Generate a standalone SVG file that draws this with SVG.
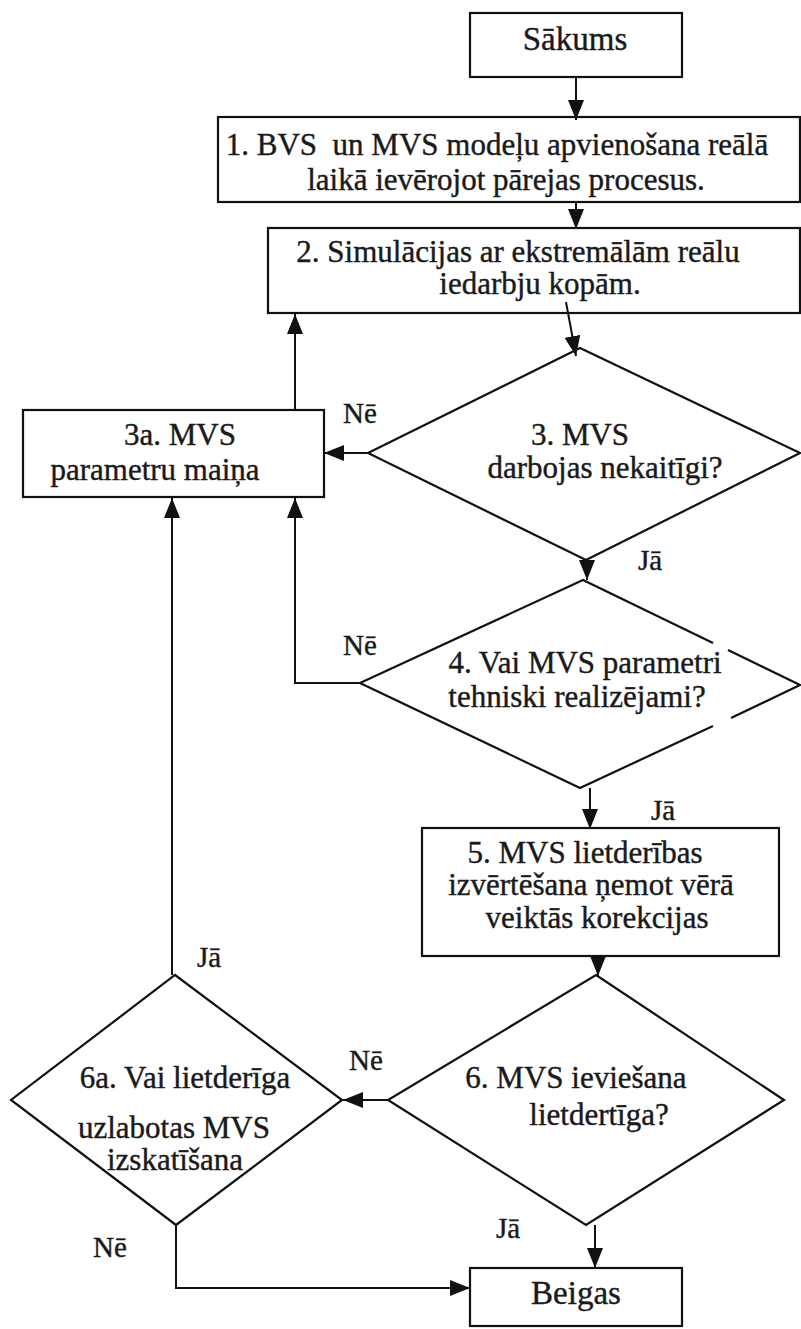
<svg xmlns="http://www.w3.org/2000/svg" width="801" height="1329" viewBox="0 0 801 1329">
  <defs>
    <style>
      .shape { fill: none; stroke: #111; stroke-width: 2.2; stroke-linejoin: miter; }
      .link { fill: none; stroke: #111; stroke-width: 2; }
      text { font-family: "Liberation Serif", "DejaVu Serif", serif; font-size: 31px; fill: #1a1a1a; stroke: #1a1a1a; stroke-width: 0.4; text-anchor: middle; }
      .lbl { font-size: 29px; }
      .big { font-size: 33px; }
    </style>
    <marker id="arrow" markerUnits="userSpaceOnUse" markerWidth="20" markerHeight="16" refX="20" refY="8" orient="auto">
      <path d="M0,0 L20,8 L0,16 z" fill="#111"/>
    </marker>
  </defs>
  <rect width="801" height="1329" fill="#fff"/>

  <!-- connectors and their Jā / Nē labels -->
  <g id="connectors">
    <path class="link" d="M576,77 L576,120" marker-end="url(#arrow)"/>
    <path class="link" d="M576,202 L576,229" marker-end="url(#arrow)"/>
    <path class="link" d="M566,302 L576,356" marker-end="url(#arrow)"/>
    <path class="link" d="M295,410 L295,314" marker-end="url(#arrow)"/>
    <path class="link" d="M368,453 L324,453" marker-end="url(#arrow)"/>
    <path class="link" d="M587,560 L587,580" marker-end="url(#arrow)"/>
    <path class="link" d="M360,683 L295,683 L295,498" marker-end="url(#arrow)"/>
    <path class="link" d="M590,788 L590,829" marker-end="url(#arrow)"/>
    <path class="link" d="M598,956 L598,976" marker-end="url(#arrow)"/>
    <path class="link" d="M388,1100 L343,1100" marker-end="url(#arrow)"/>
    <path class="link" d="M172,975 L172,498" marker-end="url(#arrow)"/>
    <path class="link" d="M595,1225 L595,1268" marker-end="url(#arrow)"/>
    <path class="link" d="M176,1225 L176,1288 L470,1288" marker-end="url(#arrow)"/>
    <text class="lbl" x="360" y="423">Nē</text>
    <text class="lbl" x="650" y="570">Jā</text>
    <text class="lbl" x="360" y="655">Nē</text>
    <text class="lbl" x="663" y="820">Jā</text>
    <text class="lbl" x="209" y="967">Jā</text>
    <text class="lbl" x="366" y="1070">Nē</text>
    <text class="lbl" x="508" y="1238">Jā</text>
    <text class="lbl" x="110" y="1257">Nē</text>
  </g>

  <g id="start">
    <rect class="shape" x="470" y="13" width="212" height="64"/>
    <text class="big" x="575" y="50">Sākums</text>
  </g>

  <g id="step1">
    <rect class="shape" x="218" y="117" width="582" height="85"/>
    <text x="497" y="155" xml:space="preserve">1. BVS  un MVS modeļu apvienošana reālā</text>
    <text x="506" y="190">laikā ievērojot pārejas procesus.</text>
  </g>

  <g id="step2">
    <rect class="shape" x="268" y="228" width="532" height="85"/>
    <text x="518" y="262">2. Simulācijas ar ekstremālām reālu</text>
    <text x="540" y="294">iedarbju kopām.</text>
  </g>

  <g id="step3a">
    <rect class="shape" x="23" y="410" width="301" height="87"/>
    <text x="180" y="445">3a. MVS</text>
    <text x="155" y="480">parametru maiņa</text>
  </g>

  <g id="decision3">
    <polygon class="shape" points="580,348 800,453 586,560 368,453"/>
    <text x="580" y="445">3. MVS</text>
    <text x="605" y="478">darbojas nekaitīgi?</text>
  </g>

  <g id="decision4">
    <polyline class="shape" points="713,643 583,580 360,683 580,788 713,726"/>
    <polyline class="shape" points="728,650 800,685 731,718"/>
    <text x="585" y="673">4. Vai MVS parametri</text>
    <text x="577" y="707">tehniski realizējami?</text>
  </g>

  <g id="step5">
    <rect class="shape" x="422" y="828" width="357" height="128"/>
    <text x="585" y="863">5. MVS lietderības</text>
    <text x="591" y="895">izvērtēšana ņemot vērā</text>
    <text x="597" y="928">veiktās korekcijas</text>
  </g>

  <g id="decision6">
    <polygon class="shape" points="596,975 784,1100 586,1225 388,1100"/>
    <text x="576" y="1088">6. MVS ieviešana</text>
    <text x="599" y="1125">lietdertīga?</text>
  </g>

  <g id="decision6a">
    <polygon class="shape" points="175,975 342,1100 176,1225 11,1100"/>
    <text x="185" y="1088">6a. Vai lietderīga</text>
    <text x="174" y="1138">uzlabotas MVS</text>
    <text x="175" y="1170">izskatīšana</text>
  </g>

  <g id="end">
    <rect class="shape" x="470" y="1268" width="212" height="58"/>
    <text class="big" x="576" y="1304">Beigas</text>
  </g>
</svg>
